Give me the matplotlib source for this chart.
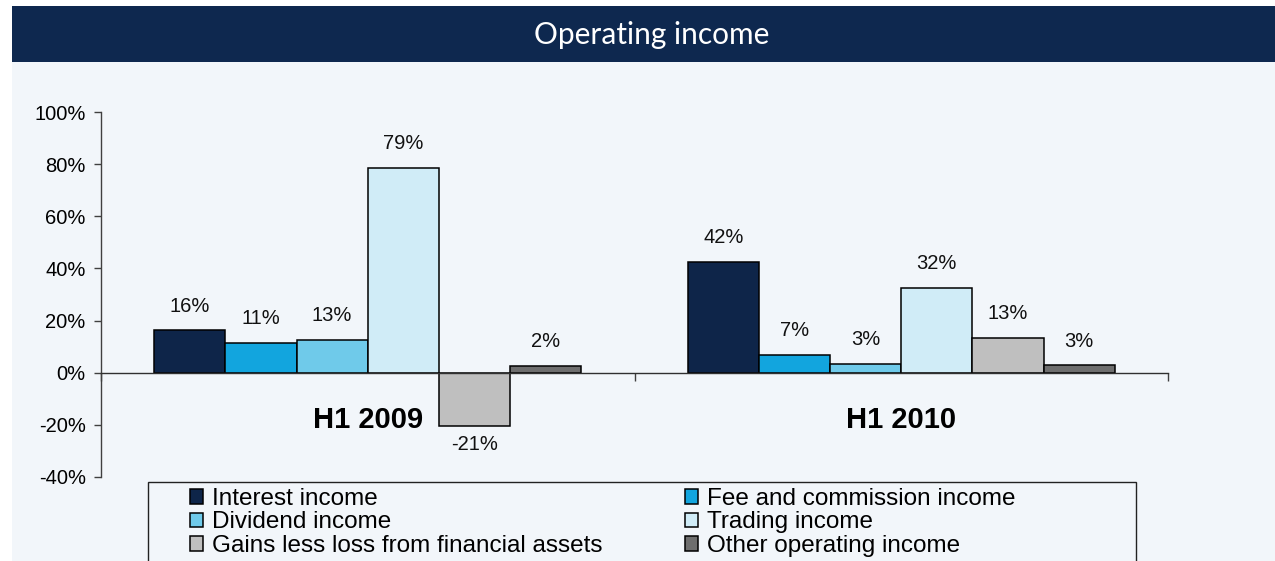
import matplotlib
matplotlib.use("Agg")
import matplotlib.pyplot as plt
from matplotlib.patches import Rectangle, Patch
import numpy as np

# ---- data ----
categories = ["H1 2009", "H1 2010"]
series_names = ["Interest income", "Fee and commission income", "Dividend income",
                "Trading income", "Gains less loss from financial assets", "Other operating income"]
interest = [16.2, 42.5]
fee = [11.4, 6.9]
dividend = [12.6, 3.5]
trading = [78.6, 32.6]
gains = [-20.6, 13.5]
other = [2.6, 2.8]
labels_interest = ["16%", "42%"]
labels_fee = ["11%", "7%"]
labels_dividend = ["13%", "3%"]
labels_trading = ["79%", "32%"]
labels_gains = ["-21%", "13%"]
labels_other = ["2%", "3%"]
yticks = [-40, -20, 0, 20, 40, 60, 80, 100]

series_values = [interest, fee, dividend, trading, gains, other]
series_labels = [labels_interest, labels_fee, labels_dividend, labels_trading, labels_gains, labels_other]
colors = ["#0E2549", "#12A5DE", "#6FCAEA", "#D0ECF7", "#BFBFBF", "#6E6E6E"]

W, H = 1275, 561
fig = plt.figure(figsize=(W / 100, H / 100), dpi=100, facecolor="white")
plt.rcParams["font.family"] = ["Liberation Sans", "DejaVu Sans"]

def fx(px):
    return px / W

def fy(py):
    return 1 - py / H

# panel background and title band
fig.patches.append(Rectangle((fx(12), 0), 1 - fx(12), fy(6), transform=fig.transFigure,
                             facecolor="#F2F6FA", edgecolor="none", zorder=-10))
fig.patches.append(Rectangle((fx(12), fy(62)), 1 - fx(12), fy(6) - fy(62), transform=fig.transFigure,
                             facecolor="#0E284F", edgecolor="none", zorder=-9))
fig.text(fx(652), fy(35), "Operating income", color="white", fontsize=21.5,
         family=["Lato", "DejaVu Sans"], ha="center", va="center")

ax = fig.add_axes([fx(101), fy(477), fx(1168) - fx(101), fy(112) - fy(477)])
ax.set_facecolor("none")

n = len(series_values)
group_w = 0.8
bw = group_w / n
x = np.arange(len(categories))
for i, (vals, labs, col, name) in enumerate(zip(series_values, series_labels, colors, series_names)):
    xpos = x + (i - (n - 1) / 2) * bw
    ax.bar(xpos, vals, width=bw, color=col, edgecolor="black", linewidth=1.1, label=name, zorder=3)
    for xp, v, lab in zip(xpos, vals, labs):
        if v >= 0:
            ax.annotate(lab, (xp, v), xytext=(0, 10.5), textcoords="offset points",
                        ha="center", va="bottom", fontsize=14.5, color="#111111")
        else:
            ax.annotate(lab, (xp, v), xytext=(0, -6.5), textcoords="offset points",
                        ha="center", va="top", fontsize=14.5, color="#111111")

ax.set_xlim(-0.5, len(categories) - 0.5)
ax.set_ylim(-40, 100)
ax.set_yticks(yticks)
ax.set_yticklabels([f"{t}%" for t in yticks], fontsize=14.5)
ax.tick_params(axis="y", direction="out", length=5, width=1, color="#404040", pad=6)

for s in ["top", "right"]:
    ax.spines[s].set_visible(False)
ax.spines["left"].set_color("#404040")
ax.spines["left"].set_linewidth(1)
ax.spines["bottom"].set_position(("data", 0))
ax.spines["bottom"].set_color("#303030")
ax.spines["bottom"].set_linewidth(1)
ax.spines["bottom"].set_zorder(4)

ax.set_xticks(np.arange(-0.5, len(categories)), labels=[""] * (len(categories) + 1))
ax.tick_params(axis="x", which="major", direction="out", length=6, width=1, color="#404040")
ax.set_xticks(x, labels=categories, minor=True)
ax.tick_params(axis="x", which="minor", length=0, pad=24, labelsize=21)
for t in ax.get_xticklabels(minor=True):
    t.set_fontweight("bold")

# legend
handles = [Patch(facecolor=c, edgecolor="black", linewidth=1.1) for c in colors]
leg_kw = dict(frameon=False, fontsize=17.5, handlelength=0.55, handleheight=0.55,
              handletextpad=0.35, labelspacing=0.06, borderpad=0, borderaxespad=0,
              loc="upper left", bbox_transform=fig.transFigure)
leg1 = fig.legend([handles[0], handles[2], handles[4]],
                  [series_names[0], series_names[2], series_names[4]],
                  bbox_to_anchor=(fx(190), fy(488)), **leg_kw)
leg2 = fig.legend([handles[1], handles[3], handles[5]],
                  [series_names[1], series_names[3], series_names[5]],
                  bbox_to_anchor=(fx(685), fy(488)), **leg_kw)
fig.patches.append(Rectangle((fx(148), fy(575)), fx(1136) - fx(148), fy(482) - fy(575),
                             transform=fig.transFigure, facecolor="none",
                             edgecolor="#222222", linewidth=1, zorder=5))

fig.savefig("out.png", dpi=100, facecolor=fig.get_facecolor())
